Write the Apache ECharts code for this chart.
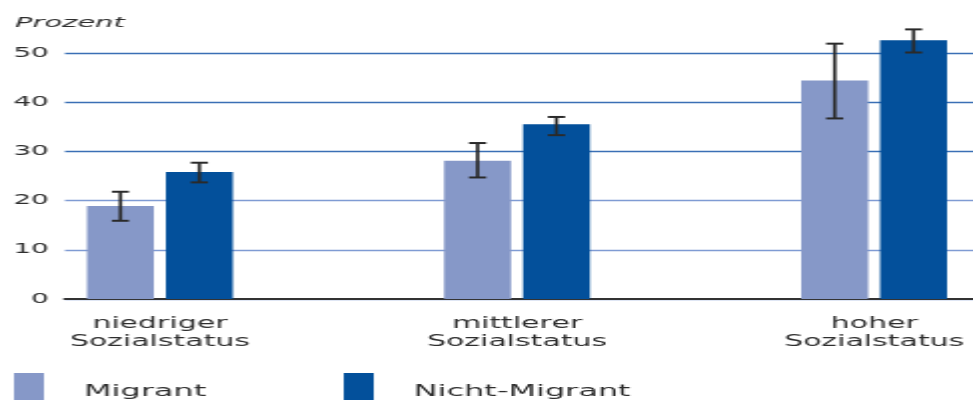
<!DOCTYPE html>
<html>
<head>
<meta charset="utf-8">
<script src="https://cdn.jsdelivr.net/npm/echarts@6/dist/echarts.min.js"></script>
<style>
  html, body { margin: 0; padding: 0; background: #fff; overflow: hidden; }
  /* the original figure is stretched horizontally, so draw narrow and stretch */
  #chart { width: 487px; height: 402px; transform: scaleX(1.998); transform-origin: 0 0; }
</style>
</head>
<body>
<div id="chart"></div>
<script>
// Daten
const categories = ['niedriger\nSozialstatus', 'mittlerer\nSozialstatus', 'hoher\nSozialstatus']
const seriesNames = ['Migrant', 'Nicht-Migrant']
const migrant = [18.9, 28.1, 44.4]
const migrantLow = [15.9, 24.7, 36.7]
const migrantHigh = [21.8, 31.7, 51.9]
const nichtMigrant = [25.8, 35.5, 52.6]
const nichtMigrantLow = [23.7, 33.3, 50.1]
const nichtMigrantHigh = [27.7, 37.0, 54.8]
const yTicks = [0, 10, 20, 30, 40, 50]

const colors = ['#8698c8', '#03509b']
const textColor = '#2e2e2e'
const font = 'DejaVu Sans'

const barWidth = 33.5
const barGap = 6
const offset = (barWidth + barGap) / 2

// Fehlerbalken
const errorData = []
migrantLow.forEach((v, i) => errorData.push([i, v, migrantHigh[i], -1]))
nichtMigrantLow.forEach((v, i) => errorData.push([i, v, nichtMigrantHigh[i], 1]))

const renderError = (params, api) => {
  const lo = api.coord([api.value(0), api.value(1)])
  const hi = api.coord([api.value(0), api.value(2)])
  const x = lo[0] + api.value(3) * offset
  const w = 4.3
  const cap = { stroke: '#2a2a2a', lineWidth: 2 }
  return {
    type: 'group',
    children: [
      { type: 'line', shape: { x1: x, y1: lo[1], x2: x, y2: hi[1] }, style: { stroke: '#2a2a2a', lineWidth: 1.7 } },
      { type: 'line', shape: { x1: x - w, y1: lo[1], x2: x + w, y2: lo[1] }, style: cap },
      { type: 'line', shape: { x1: x - w, y1: hi[1], x2: x + w, y2: hi[1] }, style: cap }
    ]
  }
}

const chart = echarts.init(document.getElementById('chart'))

const legendBase = {
  orient: 'horizontal',
  top: 373,
  padding: 0,
  icon: 'rect',
  itemWidth: 15,
  itemHeight: 27,
  selectedMode: false,
  formatter: '{t|{name}}',
  textStyle: {
    padding: [0, 0, 0, 15],
    rich: {
      t: { fontFamily: font, fontSize: 16, color: textColor, padding: [10, 0, 0, 0] }
    }
  }
}

chart.setOption({
  animation: false,
  color: colors,
  graphic: [{
    type: 'text',
    left: 7.5,
    top: 16,
    style: { text: 'Prozent', font: 'italic 14.5px "DejaVu Sans"', fill: textColor }
  }],
  legend: [
    Object.assign({}, legendBase, { left: 7, data: [seriesNames[0]] }),
    Object.assign({}, legendBase, { left: 172, data: [seriesNames[1]] })
  ],
  grid: [
    { left: 32.5, right: 0, top: 53, bottom: 103 },
    { left: 80, right: 49.5, top: 53, bottom: 103 }
  ],
  xAxis: [
    {
      gridIndex: 0,
      type: 'value',
      min: 0,
      max: 1,
      axisLine: { show: true, lineStyle: { color: '#333', width: 2 } },
      axisTick: { show: false },
      axisLabel: { show: false },
      splitLine: { show: false }
    },
    {
      gridIndex: 1,
      type: 'category',
      data: categories,
      boundaryGap: false,
      axisLine: { show: false },
      axisTick: { show: false },
      axisLabel: {
        margin: 16,
        fontFamily: font,
        fontSize: 15,
        lineHeight: 18,
        color: textColor,
        interval: 0
      }
    }
  ],
  yAxis: [
    {
      gridIndex: 0,
      type: 'value',
      min: yTicks[0],
      max: yTicks[yTicks.length - 1],
      interval: 10,
      axisLine: { show: false },
      axisTick: { show: false },
      axisLabel: { margin: 8, fontFamily: font, fontSize: 14, color: textColor },
      splitLine: {
        lineStyle: {
          color: ['#7f9bd3', '#7f9bd3', '#7f9bd3', '#3a6fb5', '#3a6fb5', '#3a6fb5'],
          width: 1.3
        }
      }
    },
    {
      gridIndex: 1,
      type: 'value',
      min: yTicks[0],
      max: yTicks[yTicks.length - 1],
      show: false,
      splitLine: { show: false }
    }
  ],
  series: [
    {
      name: seriesNames[0],
      type: 'bar',
      xAxisIndex: 1,
      yAxisIndex: 1,
      data: migrant,
      barWidth: barWidth,
      barGap: (barGap / barWidth * 100) + '%',
      clip: false,
      itemStyle: { color: colors[0] }
    },
    {
      name: seriesNames[1],
      type: 'bar',
      xAxisIndex: 1,
      yAxisIndex: 1,
      data: nichtMigrant,
      barWidth: barWidth,
      barGap: (barGap / barWidth * 100) + '%',
      clip: false,
      itemStyle: { color: colors[1] }
    },
    {
      name: 'Fehler',
      type: 'custom',
      xAxisIndex: 1,
      yAxisIndex: 1,
      data: errorData,
      renderItem: renderError,
      encode: { x: 0, y: [1, 2] },
      z: 5
    }
  ]
})
</script>
</body>
</html>
